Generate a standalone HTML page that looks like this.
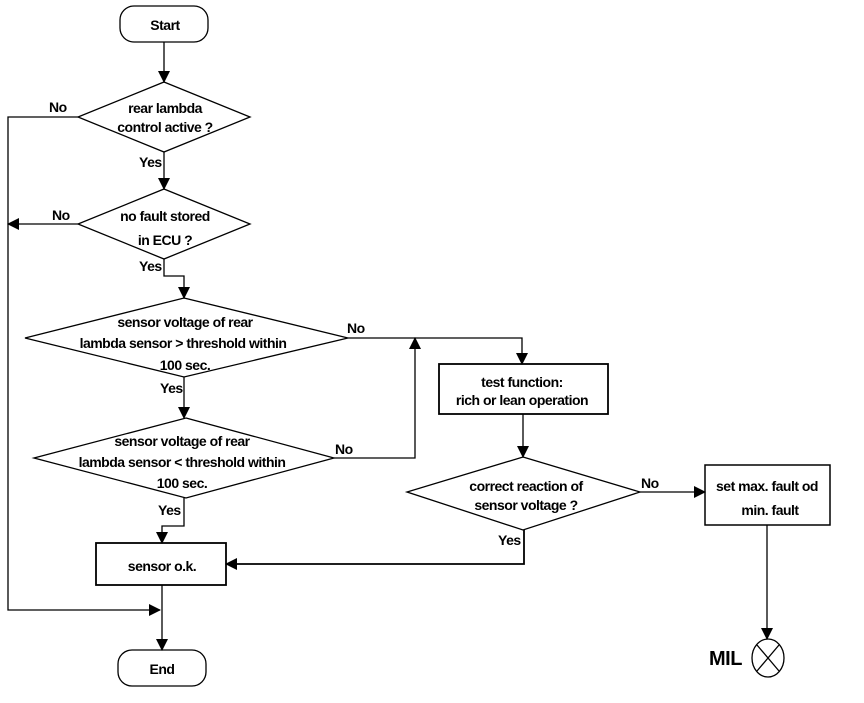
<!DOCTYPE html>
<html><head><meta charset="utf-8"><style>
html,body{margin:0;padding:0;background:#fff;}
svg text{font-family:"Liberation Sans",Arial,sans-serif;font-weight:bold;font-size:14px;letter-spacing:-0.5px;fill:#000;}
</style></head><body>
<svg width="864" height="698" viewBox="0 0 864 698" xmlns="http://www.w3.org/2000/svg">
<defs>
<marker id="a" markerWidth="12" markerHeight="12" refX="11" refY="6" orient="auto" markerUnits="userSpaceOnUse">
<path d="M0,0 L12,6 L0,12 Z" fill="#000"/></marker>
</defs>
<g fill="none" stroke="#000" stroke-width="1.3">
<rect x="120" y="6" width="88" height="36" rx="14"/>
<rect x="118" y="650" width="88" height="36" rx="14"/>
<polygon points="164,82 250,117 164,152 78,117"/>
<polygon points="164,189 250,224 164,259 78,224"/>
<polygon points="184,298 348,338 184,377 25,338"/>
<polygon points="186,418 334,458 186,498 34,458"/>
<polygon points="523,457 640,492 523,530 407,492"/>
<rect x="96" y="543" width="130" height="42" stroke-width="1.8"/>
<rect x="439" y="364" width="169" height="50" stroke-width="1.8"/>
<rect x="705" y="465" width="125" height="60" stroke-width="1.5"/>
<ellipse cx="768" cy="658" rx="16" ry="19"/>
<line x1="757" y1="645" x2="779" y2="671"/><line x1="779" y1="645" x2="757" y2="671"/>
<line x1="164" y1="42" x2="164" y2="82" marker-end="url(#a)"/>
<polyline points="78,117 8,117 8,610 160,610" marker-end="url(#a)"/>
<line x1="164" y1="152" x2="164" y2="189" marker-end="url(#a)"/>
<line x1="78" y1="224" x2="8" y2="224" marker-end="url(#a)"/>
<polyline points="164,259 164,276 184,276 184,298" marker-end="url(#a)"/>
<polyline points="348,338 522,338 522,364" marker-end="url(#a)"/>
<line x1="184" y1="377" x2="184" y2="418" marker-end="url(#a)"/>
<polyline points="334,458 415,458 415,338" marker-end="url(#a)"/>
<polyline points="184,498 184,526 162,526 162,543" marker-end="url(#a)"/>
<line x1="162" y1="585" x2="162" y2="650" marker-end="url(#a)"/>
<line x1="523" y1="414" x2="523" y2="457" marker-end="url(#a)"/>
<line x1="640" y1="492" x2="705" y2="492" marker-end="url(#a)"/>
<polyline points="524,530 524,564 226,564" stroke-width="1.8" marker-end="url(#a)"/>
<line x1="767" y1="525" x2="767" y2="639" marker-end="url(#a)"/>
</g>
<g text-anchor="middle">
<text x="165" y="30">Start</text>
<text x="162" y="674">End</text>
<text x="165" y="113">rear lambda</text>
<text x="165" y="132">control active ?</text>
<text x="165" y="221">no fault stored</text>
<text x="165" y="245">in ECU ?</text>
<text x="185" y="327">sensor voltage of rear</text>
<text x="183" y="348">lambda sensor &gt; threshold within</text>
<text x="185" y="370">100 sec.</text>
<text x="182" y="446">sensor voltage of rear</text>
<text x="182" y="467">lambda sensor &lt; threshold within</text>
<text x="182" y="488">100 sec.</text>
<text x="162" y="571">sensor o.k.</text>
<text x="522" y="387">test function:</text>
<text x="522" y="405">rich or lean operation</text>
<text x="526" y="491">correct reaction of</text>
<text x="526" y="510">sensor voltage ?</text>
<text x="767" y="491">set max. fault od</text>
<text x="770" y="515">min. fault</text>
</g>
<text x="49" y="112">No</text>
<text x="52" y="220">No</text>
<text x="139" y="167">Yes</text>
<text x="139" y="271">Yes</text>
<text x="347" y="333">No</text>
<text x="160" y="393">Yes</text>
<text x="335" y="454">No</text>
<text x="158" y="515">Yes</text>
<text x="641" y="488">No</text>
<text x="498" y="545">Yes</text>
<text x="709" y="665" style="font-size:20px">MIL</text>
</svg>
</body></html>
